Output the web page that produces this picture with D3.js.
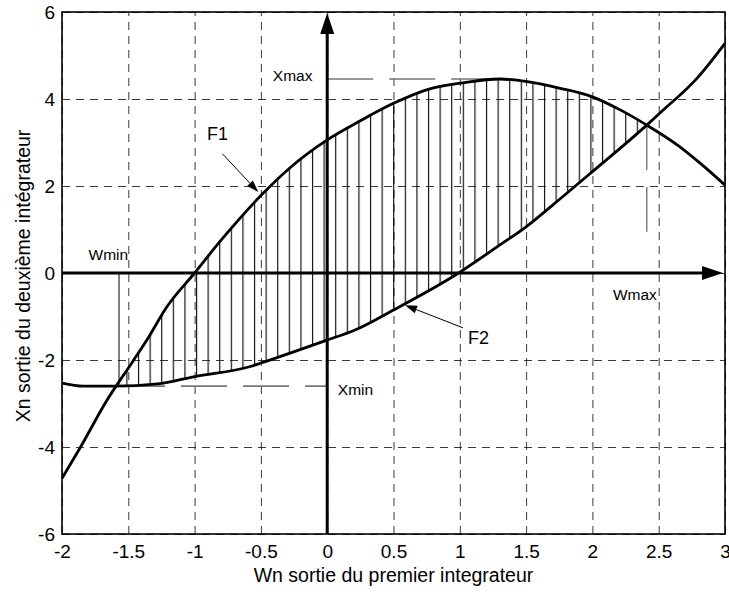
<!DOCTYPE html>
<html>
<head>
<meta charset="utf-8">
<script src="https://cdn.jsdelivr.net/npm/d3@7"></script>
<style>
  body { margin: 0; background: #fff; }
  text { font-family: Arial, "Liberation Sans", sans-serif; fill: #000; }
</style>
</head>
<body>
<div id="chart"></div>
<script>
// ticks
const xTicks = [-2, -1.5, -1, -0.5, 0, 0.5, 1, 1.5, 2, 2.5, 3];
const yTicks = [-6, -4, -2, 0, 2, 4, 6];

// curve F1 (Wn, Xn)
const f1Wn = [-2, -1.86, -1.66, -1.47, -1.36, -1.21, -1.0, -0.81, -0.5, -0.28, 0, 0.25, 0.5, 0.78, 1.02, 1.3, 1.51, 1.75, 2.0, 2.21, 2.41, 2.66, 2.81, 3.0];
const f1Xn = [-4.72, -4.0, -2.92, -2.05, -1.54, -0.78, 0.0, 0.72, 1.78, 2.42, 3.06, 3.5, 3.9, 4.24, 4.37, 4.46, 4.4, 4.25, 4.05, 3.75, 3.4, 2.9, 2.53, 2.02];

// curve F2 (Wn, Xn)
const f2Wn = [-2, -1.84, -1.6, -1.28, -1.0, -0.58, -0.5, 0, 0.21, 0.5, 0.97, 1.3, 1.5, 1.7, 2.0, 2.41, 2.51, 2.79, 3.0];
const f2Xn = [-2.53, -2.6, -2.6, -2.55, -2.38, -2.15, -2.07, -1.54, -1.31, -0.85, -0.04, 0.64, 1.06, 1.56, 2.33, 3.4, 3.68, 4.48, 5.28];

// extremes of the closed region
const wMin = -1.57, wMax = 2.41;
const xMin = -2.6, xMax = 4.46, xMaxAt = 1.3;
const wMaxLineEnd = 0.95;

// labels [text, Wn, Xn]
const labels = [
  ["Xmax", -0.41, 4.41],
  ["Wmin", -1.80, 0.30],
  ["Wmax", 2.155, -0.62],
  ["Xmin", 0.08, -2.80]
];
// curve names [text, Wn, Xn, arrow from Wn, Xn, arrow to Wn, Xn]
const curveNames = [
  ["F1", -0.906, 3.06, -0.79, 2.74, -0.52, 1.86],
  ["F2", 1.062, -1.63, 1.024, -1.26, 0.587, -0.74]
];

const W = 729, H = 592;
const m = { top: 12, right: 4, bottom: 58, left: 62 };
const w = W - m.left - m.right,
      h = H - m.top - m.bottom;

const x = d3.scaleLinear().domain([-2, 3]).range([0, w]);
const y = d3.scaleLinear().domain([-6, 6]).range([h, 0]);

const svg = d3.select("#chart").append("svg")
  .attr("width", W)
  .attr("height", H);

const g = svg.append("g").attr("transform", `translate(${m.left},${m.top})`);

const f1 = f1Wn.map((d, i) => ({ w: d, x: f1Xn[i] }));
const f2 = f2Wn.map((d, i) => ({ w: d, x: f2Xn[i] }));

// grid + tick labels
const fmt = d => String(d);
const xAxis = g.append("g")
  .attr("transform", `translate(0,${h})`)
  .call(d3.axisBottom(x).tickValues(xTicks).tickSize(-h).tickPadding(10.5).tickFormat(fmt));
const yAxis = g.append("g")
  .call(d3.axisLeft(y).tickValues(yTicks).tickSize(-w).tickPadding(7).tickFormat(fmt));
[xAxis, yAxis].forEach(a => {
  a.select(".domain").remove();
  a.selectAll(".tick line")
    .attr("stroke", "#222")
    .attr("stroke-width", 0.9)
    .attr("stroke-dasharray", "8,6");
  a.selectAll(".tick text")
    .attr("font-size", 19)
    .attr("font-family", "Arial, 'Liberation Sans', sans-serif")
    .attr("fill", "#000");
});

// hatching between the two curves
const defs = svg.append("defs");
const hatchStep = 11.6;
const pat = defs.append("pattern")
  .attr("id", "hatch")
  .attr("patternUnits", "userSpaceOnUse")
  .attr("x", x(0.06))
  .attr("y", 0)
  .attr("width", hatchStep)
  .attr("height", H);
pat.append("line")
  .attr("x1", 0.6).attr("x2", 0.6)
  .attr("y1", 0).attr("y2", H)
  .attr("stroke", "#000")
  .attr("stroke-width", 1.1);

const curve = d3.curveMonotoneX;
const belowF1 = d3.area().curve(curve).x(d => x(d.w)).y0(h + 5).y1(d => y(d.x));
const aboveF2 = d3.area().curve(curve).x(d => x(d.w)).y0(-5).y1(d => y(d.x));
defs.append("clipPath").attr("id", "clipF1").append("path").attr("d", belowF1(f1));
defs.append("clipPath").attr("id", "clipF2").append("path").attr("d", aboveF2(f2));

g.append("g").attr("clip-path", "url(#clipF2)")
  .append("rect")
  .attr("clip-path", "url(#clipF1)")
  .attr("x", 0).attr("y", 0)
  .attr("width", w).attr("height", h)
  .attr("fill", "url(#hatch)");

// extremes
g.append("line")
  .attr("x1", x(0)).attr("x2", x(xMaxAt))
  .attr("y1", y(xMax)).attr("y2", y(xMax))
  .attr("stroke", "#777").attr("stroke-width", 1.6)
  .attr("stroke-dasharray", "46,16");
g.append("line")
  .attr("x1", x(wMin)).attr("x2", x(0))
  .attr("y1", y(xMin)).attr("y2", y(xMin))
  .attr("stroke", "#777").attr("stroke-width", 1.6)
  .attr("stroke-dasharray", "46,16");
g.append("line")
  .attr("x1", x(wMax)).attr("x2", x(wMax))
  .attr("y1", y(3.4)).attr("y2", y(wMaxLineEnd))
  .attr("stroke", "#777").attr("stroke-width", 1.4)
  .attr("stroke-dasharray", "45,17");
g.append("line")
  .attr("x1", x(wMin)).attr("x2", x(wMin))
  .attr("y1", y(0)).attr("y2", y(xMin))
  .attr("stroke", "#000").attr("stroke-width", 1);

// curves
const line = d3.line().curve(curve).x(d => x(d.w)).y(d => y(d.x));
[f1, f2].forEach(c => {
  g.append("path")
    .attr("d", line(c))
    .attr("fill", "none")
    .attr("stroke", "#000")
    .attr("stroke-width", 2.8)
    .attr("stroke-linejoin", "round");
});

// axes through origin with arrows
const head = 21, half = 7;
g.append("line")
  .attr("x1", x(0)).attr("x2", x(0))
  .attr("y1", h).attr("y2", y(6) + head)
  .attr("stroke", "#000").attr("stroke-width", 3);
g.append("path")
  .attr("d", `M${x(0)},${y(6) + 1}L${x(0) - half},${y(6) + head + 1}L${x(0) + half},${y(6) + head + 1}Z`)
  .attr("fill", "#000");
g.append("line")
  .attr("x1", 0).attr("x2", x(3) - head - 2)
  .attr("y1", y(0)).attr("y2", y(0))
  .attr("stroke", "#000").attr("stroke-width", 3);
g.append("path")
  .attr("d", `M${x(3) - 2},${y(0)}L${x(3) - head - 2},${y(0) - half}L${x(3) - head - 2},${y(0) + half}Z`)
  .attr("fill", "#000");

// box
g.append("rect")
  .attr("x", 0).attr("y", 0)
  .attr("width", w).attr("height", h)
  .attr("fill", "none")
  .attr("stroke", "#000")
  .attr("stroke-width", 1.6);

// labels
labels.forEach(([t, lw, lx]) => {
  g.append("text")
    .attr("x", x(lw)).attr("y", y(lx))
    .attr("font-size", 15.5)
    .text(t);
});

curveNames.forEach(([t, lw, lx, aw0, ax0, aw1, ax1]) => {
  g.append("text")
    .attr("x", x(lw)).attr("y", y(lx))
    .attr("font-size", 18)
    .text(t);
  const x0 = x(aw0), y0 = y(ax0), x1 = x(aw1), y1 = y(ax1);
  const ang = Math.atan2(y1 - y0, x1 - x0);
  const len = 12, hw = 4;
  const bx = x1 - len * Math.cos(ang), by = y1 - len * Math.sin(ang);
  g.append("line")
    .attr("x1", x0).attr("y1", y0)
    .attr("x2", bx).attr("y2", by)
    .attr("stroke", "#000").attr("stroke-width", 1);
  g.append("path")
    .attr("d", `M${x1},${y1}L${bx - hw * Math.sin(ang)},${by + hw * Math.cos(ang)}L${bx + hw * Math.sin(ang)},${by - hw * Math.cos(ang)}Z`)
    .attr("fill", "#000");
});

// axis titles
svg.append("text")
  .attr("x", m.left + w / 2)
  .attr("y", 582)
  .attr("text-anchor", "middle")
  .attr("font-size", 19.5)
  .text("Wn sortie du premier integrateur");
svg.append("text")
  .attr("transform", `translate(30,${m.top + h / 2 + 3}) rotate(-90)`)
  .attr("text-anchor", "middle")
  .attr("font-size", 19.5)
  .text("Xn sortie du deuxième intégrateur");
</script>
</body>
</html>
